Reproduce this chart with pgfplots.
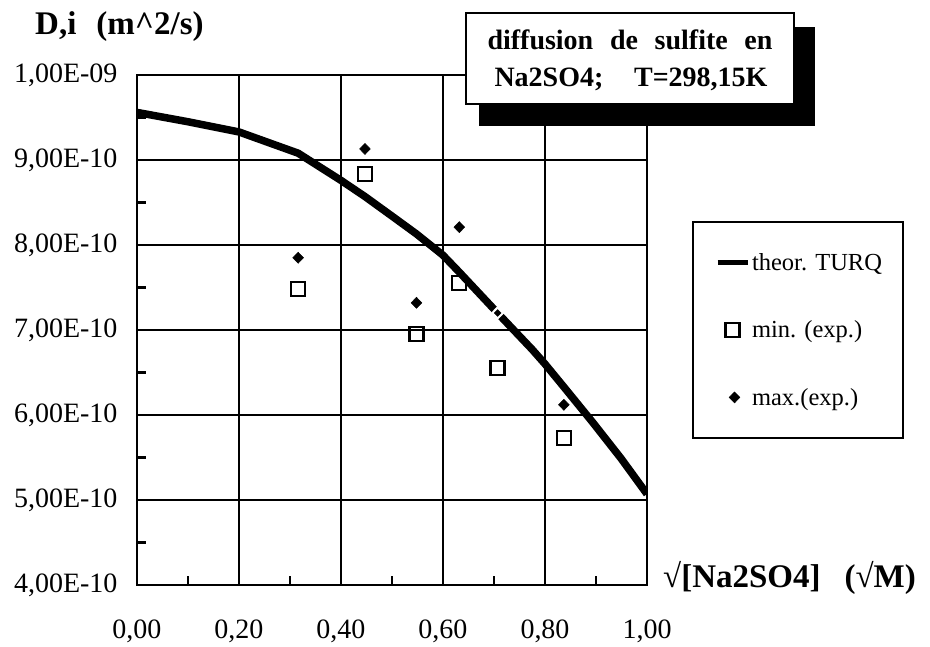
\documentclass[border=0pt]{standalone}
\usepackage{fontspec}
\setmainfont{Liberation Serif}
\usepackage{pgfplots}
\pgfplotsset{compat=1.18}
\pgfplotsset{
  linelegend/.style={legend image code/.code={\draw[black, line width=5pt] (0pt,0pt) -- (30pt,0pt);}},
  squarelegend/.style={legend image code/.code={\draw[##1] plot coordinates {(15pt,0pt)};}},
  diamondlegend/.style={legend image code/.code={\draw[##1] plot coordinates {(17pt,0pt)};}},
}

\begin{document}
\begin{tikzpicture}
% page = 930 x 646, origin at the lower left corner of the axis box
\path[use as bounding box] (-137pt,-61pt) rectangle (793pt,585pt);
\begin{axis}[
  at={(0pt,0pt)}, anchor=south west,
  scale only axis, width=510pt, height=510pt,
  xmin=0, xmax=1, ymin=4e-10, ymax=1e-9,
  scaled x ticks=false, scaled y ticks=false,
  xtick={0,0.2,0.4,0.6,0.8,1},
  xticklabels={{0,00},{0,20},{0,40},{0,60},{0,80},{1,00}},
  ytick={4e-10,5e-10,6e-10,7e-10,8e-10,9e-10,1e-9},
  yticklabels={{4,00E-10},{5,00E-10},{6,00E-10},{7,00E-10},{8,00E-10},{9,00E-10},{1,00E-09}},
  minor x tick num=1, minor y tick num=1,
  tick pos=left, tick align=inside,
  major tick length=6pt, minor tick length=9pt,
  every tick/.style={black, line width=2.4pt},
  grid=major, major grid style={black, line width=1.7pt},
  axis line style={line width=2.8pt},
  ticklabel style={font=\fontsize{28}{30}\selectfont},
  xticklabel style={yshift=-31pt},
  yticklabel style={xshift=-16pt},
  legend cell align=left,
  legend style={draw=none, fill=none, inner sep=0pt,
    at={(1.133,0.655)}, anchor=north west, row sep=45pt,
    font=\fontsize{24.5}{28}\selectfont},
]
\addplot[black, line width=7.5pt, line join=round, linelegend]
  coordinates {
  (0.000,9.56e-10) (0.100,9.45e-10) (0.200,9.33e-10) (0.316,9.08e-10)
  (0.400,8.76e-10) (0.447,8.57e-10) (0.500,8.34e-10) (0.548,8.13e-10)
  (0.600,7.88e-10) (0.632,7.68e-10) (0.707,7.20e-10) (0.775,6.77e-10)
  (0.800,6.60e-10) (0.837,6.33e-10) (0.894,5.91e-10) (0.949,5.49e-10)
  (1.000,5.07e-10)
};
\addlegendentry{theor. TURQ}
\addplot[only marks, mark=square, mark size=7pt,
  mark options={black, line width=2.2pt, fill=white}, squarelegend]
  coordinates {
  (0.316,7.48e-10) (0.447,8.84e-10) (0.548,6.95e-10)
  (0.632,7.55e-10) (0.707,6.55e-10) (0.837,5.73e-10)
};
\addlegendentry{min. (exp.)}
\addplot[only marks, mark=diamond*, mark size=5.5pt,
  mark options={black, line width=0.5pt, xscale=1.3}, diamondlegend]
  coordinates {
  (0.316,7.85e-10) (0.447,9.13e-10) (0.548,7.32e-10)
  (0.632,8.21e-10) (0.837,6.12e-10)
};
\addlegendentry{max.(exp.)}
\addplot[forget plot, only marks, mark=diamond*, mark size=5.5pt,
  mark options={fill=black, draw=white, line width=2pt, xscale=1.3}]
  coordinates {(0.707,7.20e-10)};
\end{axis}
% title box with its shadow
\fill[black] (342pt,459pt) rectangle (678pt,558pt);
\draw[fill=white, line width=2pt] (329pt,481pt) rectangle (657pt,572pt);
\node[anchor=base, font=\bfseries\fontsize{28}{30}\selectfont, inner sep=0pt]
  at (493pt,535pt) {\makebox[285pt][s]{diffusion de sulfite en}};
\node[anchor=base, font=\bfseries\fontsize{28}{30}\selectfont, inner sep=0pt]
  at (494pt,498pt) {\makebox[273pt][s]{Na2SO4; T=298,15K}};
% legend frame
\draw[line width=2pt] (556pt,147pt) rectangle (766pt,363pt);
% axis titles
\node[anchor=base west, font=\bfseries\fontsize{33}{36}\selectfont, inner sep=0pt]
  at (-102pt,550pt) {D,i\hspace{20pt}(m\textasciicircum 2/s)};
\node[anchor=base west, font=\bfseries\fontsize{33}{36}\selectfont, inner sep=0pt]
  at (526pt,-3pt) {√[Na2SO4]\hspace{24pt}(√M)};
\end{tikzpicture}
\end{document}
